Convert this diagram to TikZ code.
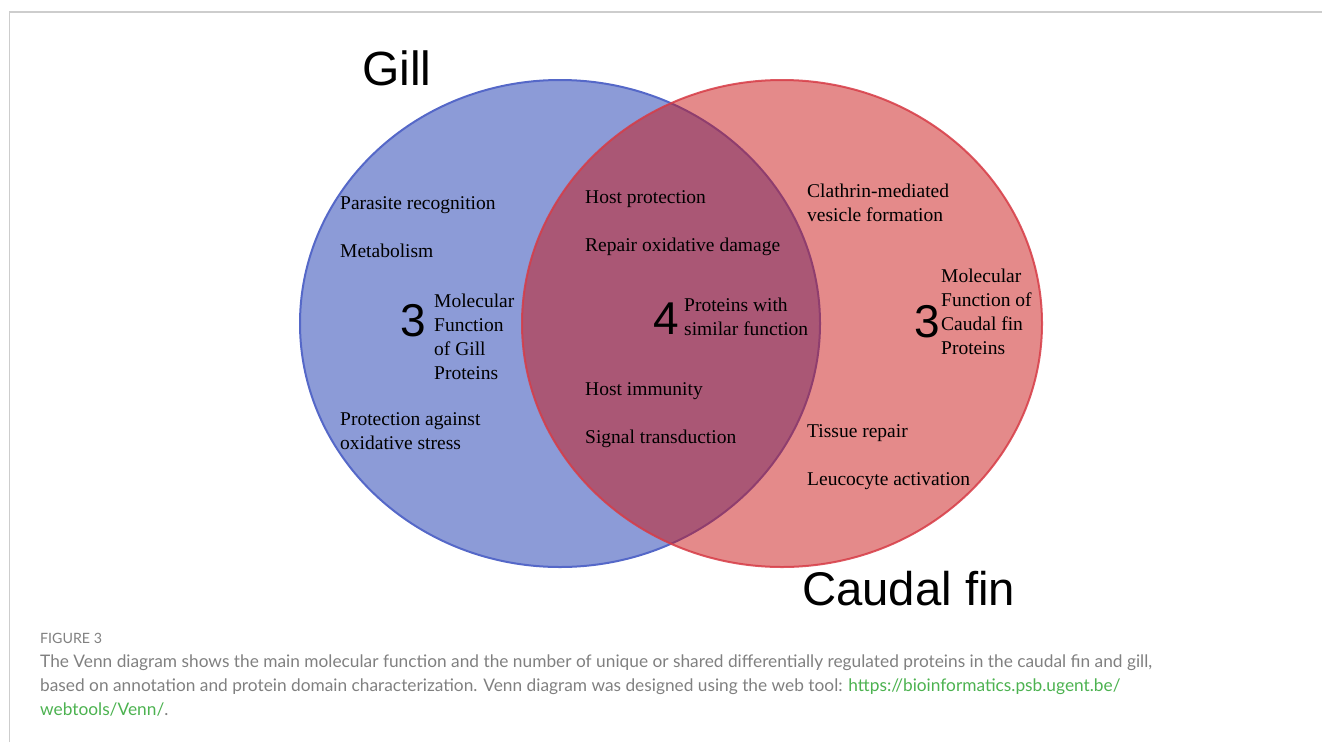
\documentclass[tikz,border=0pt]{standalone}
\usepackage{fontspec}
\setmainfont{Liberation Serif}
\newfontfamily\arialf{Liberation Sans}
\newfontfamily\capf{Lato}
\definecolor{gillfill}{RGB}{140,155,215}
\definecolor{gilldraw}{RGB}{85,104,200}
\definecolor{finfill}{RGB}{201,21,21}
\definecolor{findraw}{RGB}{215,60,70}
\definecolor{capgray}{RGB}{128,128,128}
\definecolor{linkgreen}{RGB}{76,178,80}
\definecolor{framegray}{RGB}{205,205,205}
\tikzset{
  body/.style={anchor=base west,inner sep=0pt,font=\fontsize{19.5}{23}\selectfont,text=black},
  bignum/.style={anchor=base west,inner sep=0pt,font=\arialf\fontsize{46}{46}\selectfont},
  setlabel/.style={anchor=base west,inner sep=0pt,font=\arialf\fontsize{48}{48}\selectfont},
  captext/.style={anchor=base west,inner sep=0pt,font=\capf\fontsize{17.3}{20}\selectfont,text=capgray},
}
\begin{document}
\begin{tikzpicture}[x=1pt,y=-1pt]
\useasboundingbox (0,0) rectangle (1322,742);
\draw[framegray,line width=1.3pt] (9.5,742) -- (9.5,12) -- (1322,12);
% circles
\path[fill=gillfill,draw=gilldraw,line width=2pt] (560,323.5) ellipse [x radius=260,y radius=243.5];
\path[fill=finfill,fill opacity=0.5,draw=findraw,draw opacity=0.85,line width=2pt] (782,323.5) ellipse [x radius=260,y radius=243.5];
% set labels
\node[setlabel] (gill) at (362,85) {Gill};
\node[setlabel,font=\arialf\fontsize{47.3}{48}\selectfont] (fin) at (802,605) {Caudal fin};
% gill only
\node[body] (g1) at (340,209) {Parasite recognition};
\node[body] (g2) at (340,257) {Metabolism};
\node[bignum] (g3) at (400,336) {3};
\node[body] (g4) at (434,307) {Molecular};
\node[body] (g5) at (434,331) {Function};
\node[body] (g6) at (434,355) {of Gill};
\node[body] (g7) at (434,379) {Proteins};
\node[body] (g8) at (340,425) {Protection against};
\node[body] (g9) at (340,449) {oxidative stress};
% shared
\node[body] (s1) at (585,203) {Host protection};
\node[body] (s2) at (585,251) {Repair oxidative damage};
\node[bignum] (s3) at (653,334) {4};
\node[body] (s4) at (684,311) {Proteins with};
\node[body] (s5) at (684,335) {similar function};
\node[body] (s6) at (585,395) {Host immunity};
\node[body] (s7) at (585,443) {Signal transduction};
% caudal fin only
\node[body] (f1) at (807,197) {Clathrin-mediated};
\node[body] (f2) at (807,221) {vesicle formation};
\node[bignum] (f3) at (914,337) {3};
\node[body] (f4) at (941,282) {Molecular};
\node[body] (f5) at (941,306) {Function of};
\node[body] (f6) at (941,330) {Caudal fin};
\node[body] (f7) at (941,354) {Proteins};
\node[body] (f8) at (807,437) {Tissue repair};
\node[body] (f9) at (807,485) {Leucocyte activation};
% caption
\node[captext,font=\capf\fontsize{14.2}{16}\selectfont] (c0) at (40,643) {FIGURE 3};
\node[captext] (c1) at (40,667) {The Venn diagram shows the main molecular function and the number of unique or shared differentially regulated proteins in the caudal fin and gill,};
\node[captext] (c2) at (40,691) {based on annotation and protein domain characterization. Venn diagram was designed using the web tool: \textcolor{linkgreen}{https://bioinformatics.psb.ugent.be/}};
\node[captext] (c3) at (40,715) {\textcolor{linkgreen}{webtools/Venn/}.};
\end{tikzpicture}
\end{document}
